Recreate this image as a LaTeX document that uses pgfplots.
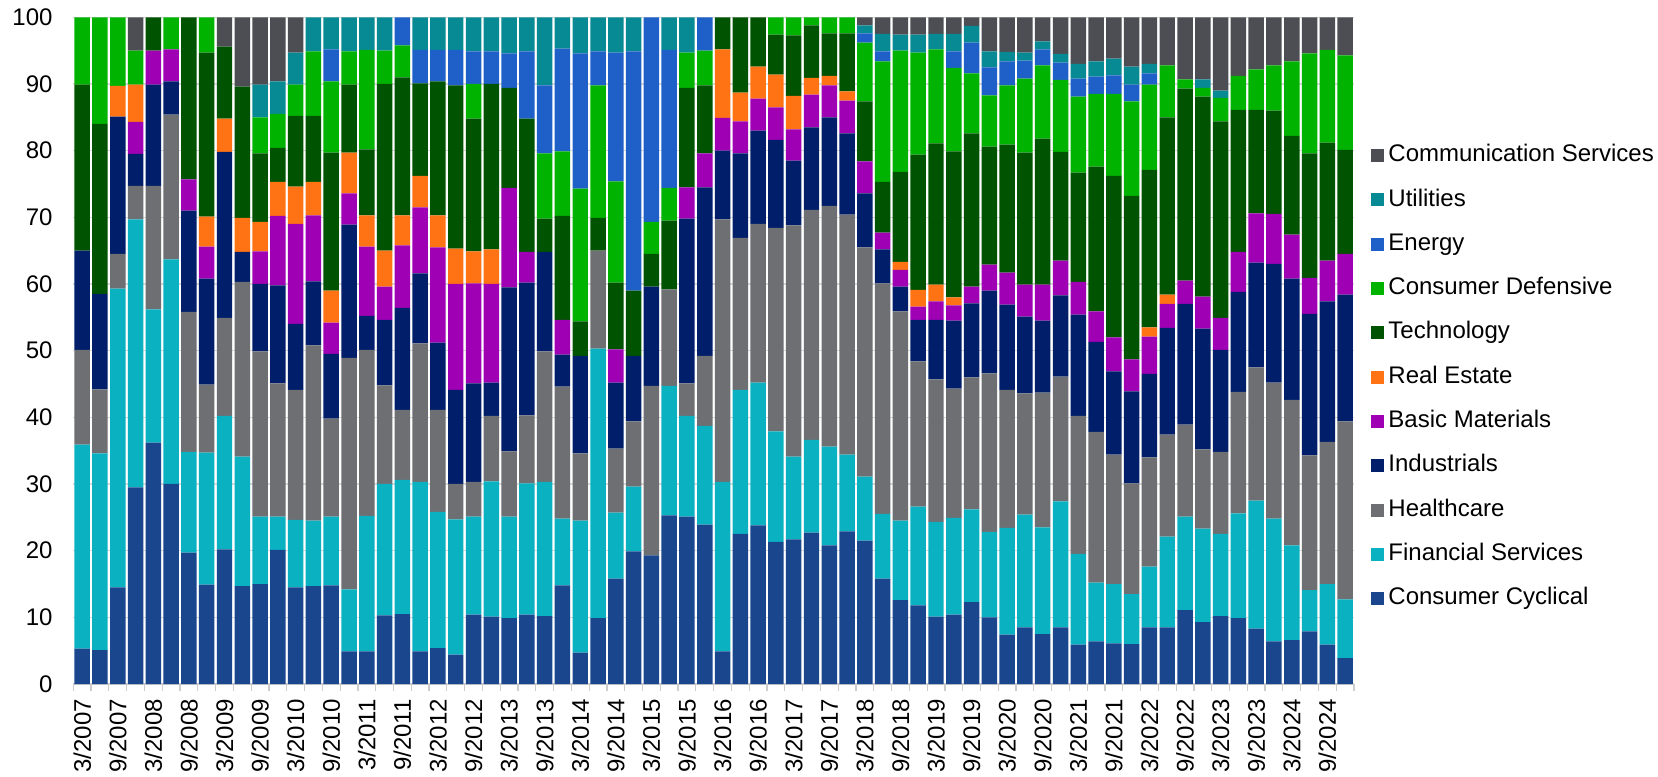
\documentclass[border=0pt]{standalone}
\usepackage{fontspec}
\setmainfont{Liberation Sans}
\usepackage{pgfplots}
\usepackage{pgfplotstable}
\pgfplotsset{compat=1.18}

\definecolor{cCC}{HTML}{1A468E}
\definecolor{cFS}{HTML}{0AB2C1}
\definecolor{cHC}{HTML}{6E6F73}
\definecolor{cIND}{HTML}{001E6A}
\definecolor{cBM}{HTML}{A000B4}
\definecolor{cRE}{HTML}{FF7314}
\definecolor{cTECH}{HTML}{005300}
\definecolor{cCD}{HTML}{00B300}
\definecolor{cEN}{HTML}{1F5FC8}
\definecolor{cUT}{HTML}{078A93}
\definecolor{cCS}{HTML}{4D4E53}

% sector weights (%) per quarter, 3/2007 ... 12/2024
\pgfplotstableread{
x cc fs hc ind bm re tech cd en ut cs
0 5.3 30.6 14.2 14.9 0 0 24.9 10.1 0 0 0
1 5.1 29.5 9.6 14.3 0 0 25.5 16.0 0 0 0
2 14.5 44.8 5.2 20.6 0 4.6 0 10.3 0 0 0
3 29.5 40.2 5.0 4.8 4.8 5.6 0 5.1 0 0 5.0
4 36.2 20.0 18.5 15.2 5.1 0 5.0 0 0 0 0
5 30.0 33.7 21.7 5.0 4.8 0 0 4.8 0 0 0
6 19.7 15.1 21.0 15.2 4.7 0 24.3 0 0 0 0
7 14.9 19.8 10.2 15.9 4.8 4.5 24.6 5.3 0 0 0
8 20.2 20.0 14.7 24.9 0 5.0 10.8 0 0 0 4.4
9 14.7 19.4 26.2 4.5 0 5.1 19.7 0 0 0 10.4
10 15.0 10.1 24.8 10.1 4.9 4.4 10.3 5.4 0 4.9 10.1
11 20.1 5.0 20.0 14.7 10.4 5.1 5.1 5.1 0 4.9 9.6
12 14.5 10.1 19.5 9.9 15.0 5.6 10.6 4.7 0 4.8 5.3
13 14.7 9.8 26.3 9.6 9.9 5.0 9.9 9.7 0 5.1 0
14 14.8 10.3 14.7 9.7 4.7 4.8 20.7 10.7 4.8 4.8 0
15 4.9 9.3 34.7 20.0 4.7 6.1 10.2 5.0 0 5.1 0
16 4.9 20.3 24.9 5.1 10.4 4.7 9.9 14.9 0 4.9 0
17 10.3 19.7 14.8 9.8 5.0 5.4 25.0 5.0 0 5.0 0
18 10.5 20.1 10.5 15.3 9.4 4.5 20.7 4.8 4.2 0 0
19 4.9 25.4 20.8 10.5 9.9 4.7 13.9 0 5.0 4.9 0
20 5.4 20.4 15.3 10.1 14.3 4.8 20.1 0 4.7 4.9 0
21 4.4 20.3 5.3 14.1 15.9 5.3 24.5 0 5.3 4.9 0
22 10.4 14.7 5.2 14.8 15.0 4.8 19.9 5.2 4.9 5.1 0
23 10.1 20.3 9.8 5.0 14.8 5.2 24.8 0 4.9 5.1 0
24 9.9 15.2 9.8 24.6 14.9 0 15.0 0 5.2 5.4 0
25 10.4 19.7 10.2 19.9 4.6 0 20.0 0 10.1 5.1 0
26 10.2 20.1 19.6 14.9 0 0 5.0 9.8 10.2 10.2 0
27 14.8 10.0 19.8 4.8 5.2 0 15.6 9.7 15.4 4.7 0
28 4.7 19.8 10.1 14.6 0 0 5.2 19.9 20.3 5.4 0
29 9.9 40.4 14.7 0 0 0 4.9 19.9 5.1 5.1 0
30 15.8 9.9 9.6 9.9 5.0 0 10.0 15.2 19.3 5.3 0
31 19.9 9.7 9.8 9.8 0 0 9.8 0 35.9 5.1 0
32 19.3 0 25.4 14.9 0 0 4.9 4.8 30.7 0 0
33 25.3 19.4 14.5 0 0 0 10.3 4.9 20.7 4.9 0
34 25.1 15.1 4.9 24.7 4.7 0 14.9 5.3 0 5.3 0
35 23.9 14.8 10.5 25.3 5.1 0 10.2 5.2 5.0 0 0
36 4.9 25.4 39.4 10.3 4.9 10.3 4.8 0 0 0 0
37 22.5 21.6 22.8 12.7 4.8 4.3 11.3 0 0 0 0
38 23.8 21.4 23.8 14.0 4.8 4.8 7.4 0 0 0 0
39 21.3 16.6 30.5 13.2 4.9 4.9 6.0 2.6 0 0 0
40 21.7 12.4 34.7 9.7 4.7 5.0 9.1 2.7 0 0 0
41 22.7 13.9 34.5 12.4 4.9 2.5 7.9 1.2 0 0 0
42 20.8 14.8 36.1 13.3 4.8 1.4 6.4 2.4 0 0 0
43 22.9 11.5 36.0 12.2 4.9 1.4 8.7 2.4 0 0 0
44 21.5 9.6 34.4 8.1 4.8 0 9.0 8.8 1.4 1.2 1.2
45 15.8 9.7 34.6 5.1 2.5 0 7.6 18.1 1.5 2.6 2.5
46 12.6 11.9 31.4 3.7 2.5 1.2 13.5 18.2 0 2.4 2.6
47 11.8 14.8 21.8 6.2 2.0 2.5 20.3 15.3 0 2.7 2.6
48 10.1 14.2 21.4 8.9 2.8 2.5 21.2 14.1 0 2.3 2.5
49 10.4 14.5 19.4 10.2 2.3 1.2 21.9 12.5 2.5 2.6 2.5
50 12.3 13.9 19.8 11.1 2.5 0 23.0 9.0 4.6 2.5 1.3
51 10.0 12.8 23.8 12.4 3.9 0 17.7 7.7 4.2 2.4 5.1
52 7.4 16.0 20.7 12.8 4.8 0 19.2 8.9 3.6 1.4 5.2
53 8.5 16.9 18.2 11.5 4.8 0 19.8 11.1 2.7 1.2 5.3
54 7.5 16.0 20.2 10.8 5.4 0 21.9 11.0 2.4 1.2 3.6
55 8.5 18.9 18.7 12.2 5.2 0 16.3 10.8 2.6 1.3 5.5
56 5.9 13.6 20.7 15.2 4.9 0 16.4 11.4 2.7 2.2 7.0
57 6.4 8.8 22.6 13.5 4.6 0 21.7 10.9 2.6 2.3 6.6
58 6.1 8.9 19.4 12.5 5.1 0 24.2 12.3 2.8 2.5 6.2
59 6.0 7.5 16.6 13.8 4.8 0 24.5 14.2 2.5 2.7 7.4
60 8.5 9.1 16.4 12.5 5.6 1.4 23.6 12.8 1.7 1.4 7.0
61 8.5 13.6 15.3 16.0 3.6 1.4 26.6 7.8 0 0 7.2
62 11.1 14.0 13.8 18.1 3.5 0 28.8 1.4 0 0 9.3
63 9.3 14.0 11.9 18.1 4.8 0 30.0 1.3 0 1.3 9.3
64 10.2 12.3 12.3 15.3 4.8 0 29.5 3.5 0 1.1 11.0
65 9.9 15.7 18.2 15.0 6.0 0 21.3 5.1 0 0 8.8
66 8.3 19.2 20.0 15.7 7.4 0 15.5 6.1 0 0 7.8
67 6.4 18.4 20.4 17.8 7.5 0 15.5 6.8 0 0 7.2
68 6.6 14.2 21.8 18.2 6.6 0 14.8 11.2 0 0 6.6
69 7.9 6.2 20.2 21.2 5.4 0 18.7 15.0 0 0 5.4
70 5.9 9.1 21.3 21.1 6.1 0 17.7 13.9 0 0 4.9
71 3.9 8.8 26.7 19.0 6.1 0 15.6 14.2 0 0 5.7
}\sectors

\begin{document}
\begin{tikzpicture}
\begin{axis}[
    scale only axis,
    width=640.35pt, height=333.35pt,
    ybar stacked, bar width=0.87,
    xmin=-0.5, xmax=71.5, ymin=0, ymax=100,
    font=\fontsize{12}{14}\selectfont,
    /pgf/number format/assume math mode=true,
    ytick={0,10,...,100},
    ymajorgrids, grid style={draw=gray!30, line width=0.6pt},
    xtick={0,2,...,70},
    xticklabels={3/2007,9/2007,3/2008,9/2008,3/2009,9/2009,3/2010,9/2010,3/2011,9/2011,3/2012,9/2012,3/2013,9/2013,3/2014,9/2014,3/2015,9/2015,3/2016,9/2016,3/2017,9/2017,3/2018,9/2018,3/2019,9/2019,3/2020,9/2020,3/2021,9/2021,3/2022,9/2022,3/2023,9/2023,3/2024,9/2024},
    minor xtick={-0.5,0.5,...,71.5},
    major tick length=0pt, minor tick length=3.5pt,
    tick align=outside,
    tick style={draw=gray!40, line width=0.6pt},
    xticklabel style={rotate=90, anchor=east, inner sep=0pt},
    xticklabel shift=7.4pt,
    yticklabel style={inner sep=0pt},
    yticklabel shift=10.2pt,
    axis x line*=bottom, axis y line*=left,
    separate axis lines,
    x axis line style={draw=gray!40, line width=0.6pt, -},
    y axis line style={draw=none},
    ytick style={draw=none},
    reverse legend,
    legend style={at={(1.0133,0.4603)}, anchor=west, draw=none, fill=none,
        inner sep=0pt, row sep=6.85pt, cells={anchor=west},
        nodes={inner sep=2pt, text height=8.7pt, text depth=2.6pt}},
    legend image code/.code={\fill[#1] (0pt,-3.25pt) rectangle (6.5pt,3.25pt);},
    clip=false,
]
\addplot[fill=cCC, draw=none] table[x=x, y=cc] {\sectors};
\addplot[fill=cFS, draw=none] table[x=x, y=fs] {\sectors};
\addplot[fill=cHC, draw=none] table[x=x, y=hc] {\sectors};
\addplot[fill=cIND, draw=none] table[x=x, y=ind] {\sectors};
\addplot[fill=cBM, draw=none] table[x=x, y=bm] {\sectors};
\addplot[fill=cRE, draw=none] table[x=x, y=re] {\sectors};
\addplot[fill=cTECH, draw=none] table[x=x, y=tech] {\sectors};
\addplot[fill=cCD, draw=none] table[x=x, y=cd] {\sectors};
\addplot[fill=cEN, draw=none] table[x=x, y=en] {\sectors};
\addplot[fill=cUT, draw=none] table[x=x, y=ut] {\sectors};
\addplot[fill=cCS, draw=none] table[x=x, y=cs] {\sectors};
\legend{Consumer Cyclical, Financial Services, Healthcare, Industrials, Basic Materials, Real Estate, Technology, Consumer Defensive, Energy, Utilities, Communication Services}
% page frame with the reference's margins
\path (rel axis cs:-0.05723,-0.13799) rectangle (rel axis cs:1.23737,1.02595);
\end{axis}
\end{tikzpicture}
\end{document}
